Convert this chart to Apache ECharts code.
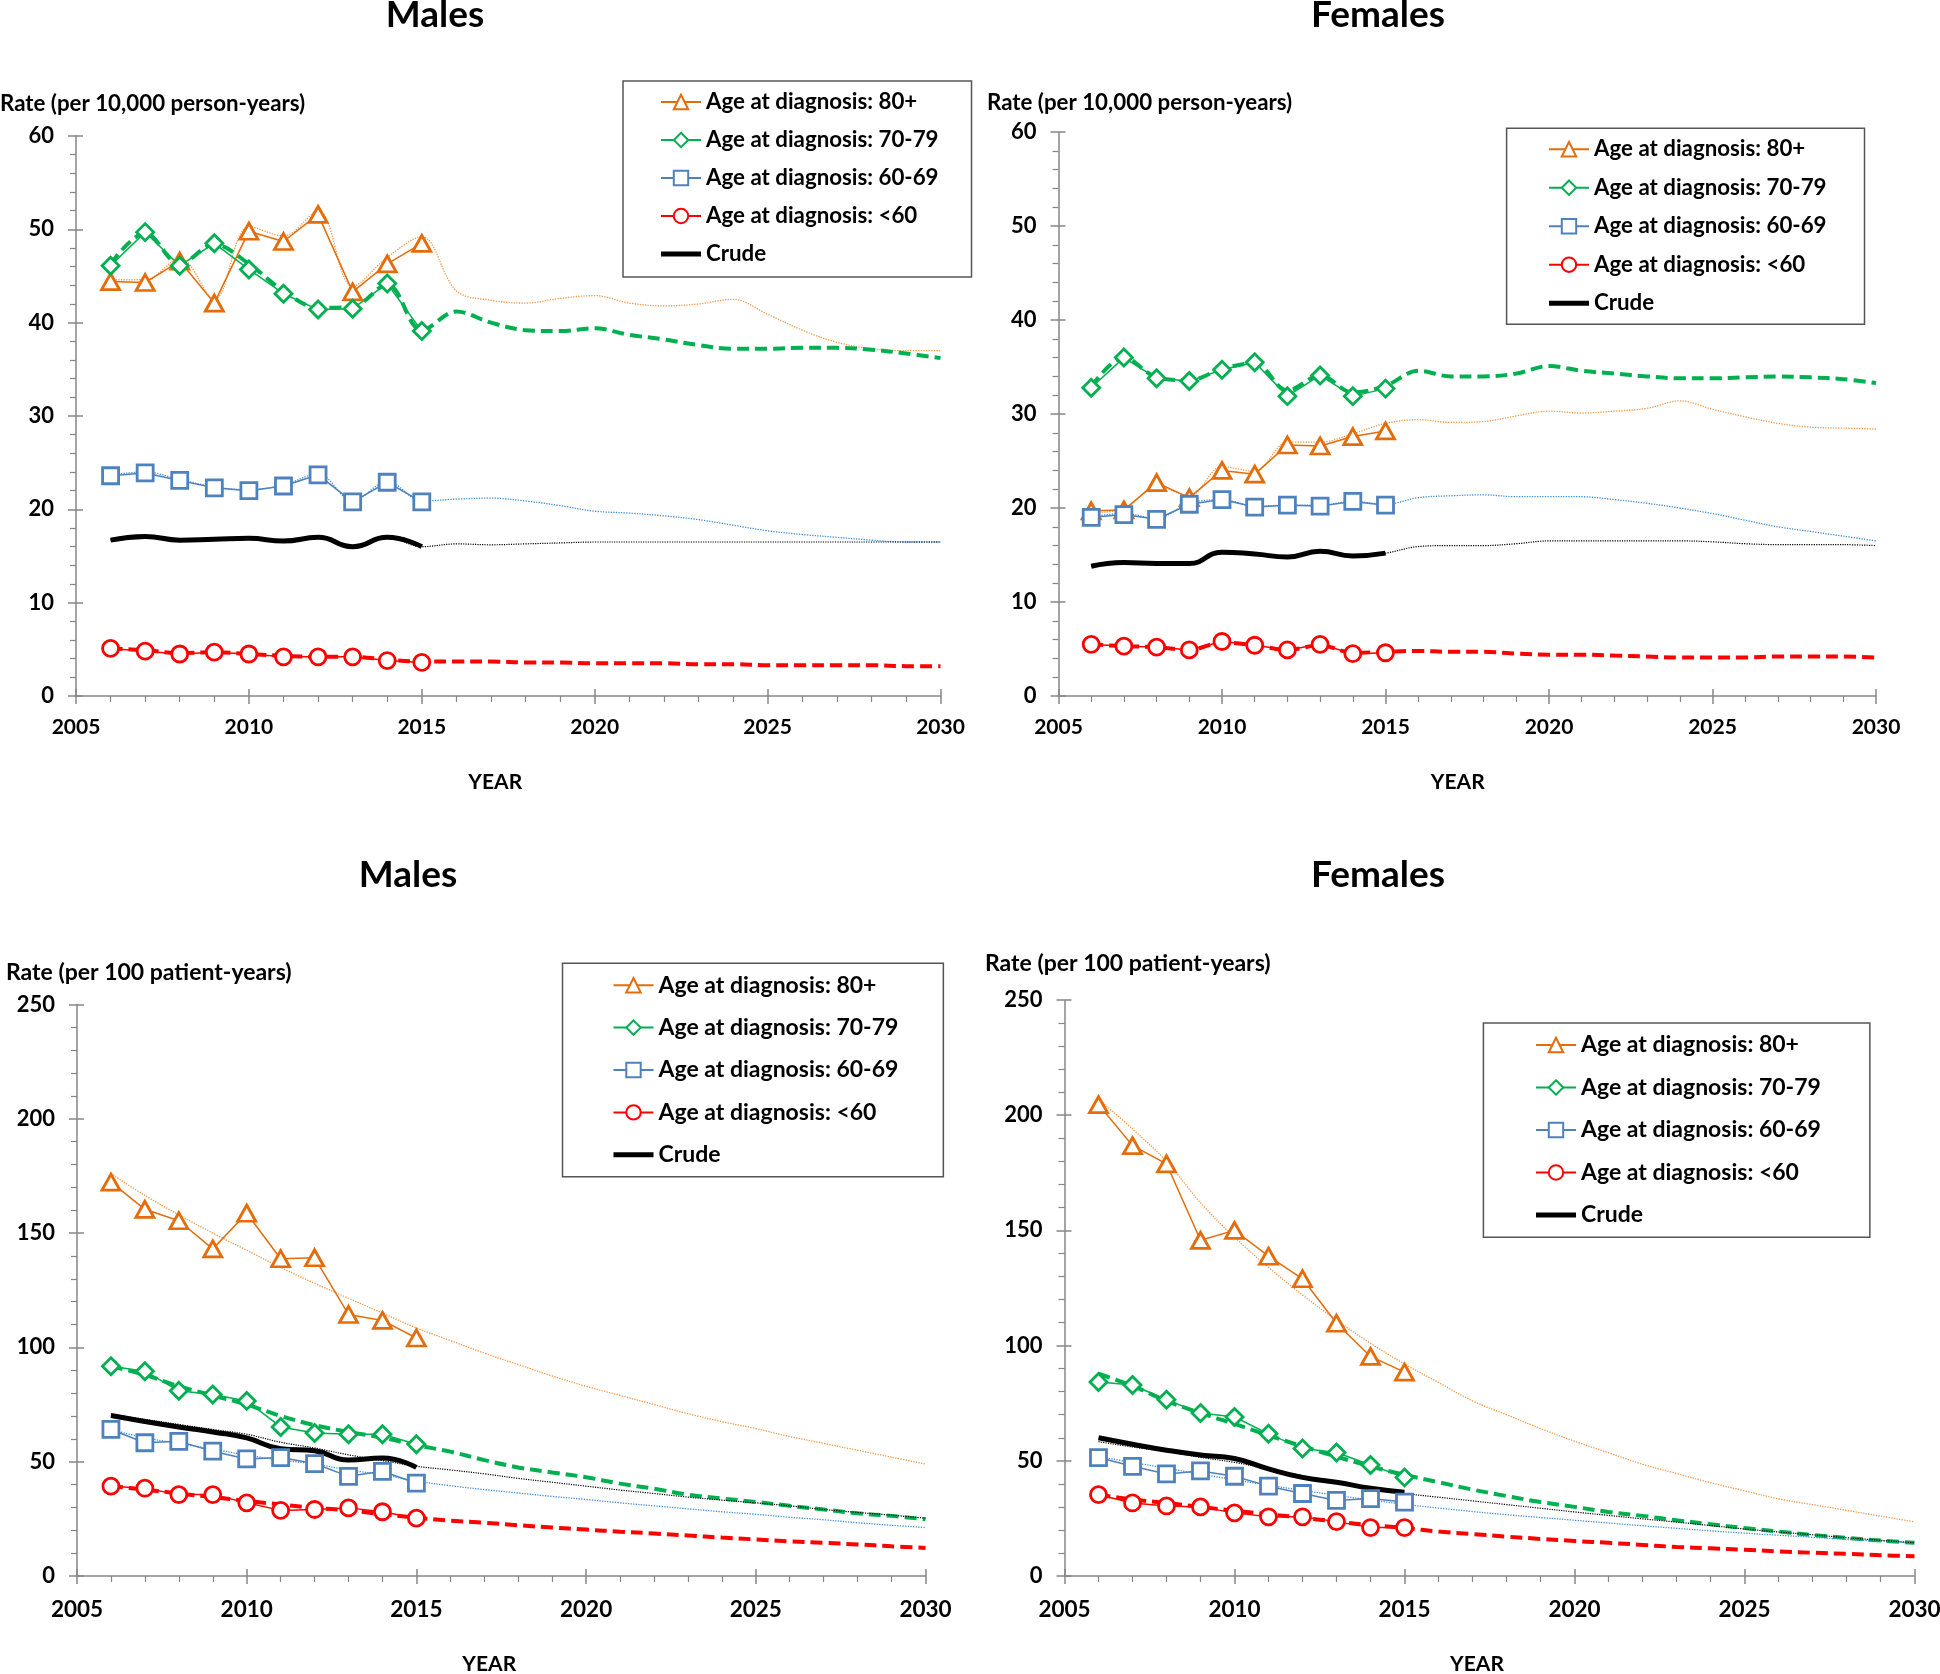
<!DOCTYPE html>
<html><head><meta charset="utf-8">
<script src="https://cdn.jsdelivr.net/npm/echarts@6/dist/echarts.min.js"></script>
<style>html,body{margin:0;padding:0;background:#fff}#c{width:1940px;height:1674px}</style>
</head><body><div id="c"></div><script>
// ---------------- DATA ----------------
const obsYears = [2006,2007,2008,2009,2010,2011,2012,2013,2014,2015];
const projYears = [2006,2007,2008,2009,2010,2011,2012,2013,2014,2015,2016,2017,2018,2019,2020,2021,2022,2023,2024,2025,2026,2027,2028,2029,2030];
const panelTitles = ['Males','Females','Males','Females'];
const yAxisNames = ['Rate (per 10,000 person-years)','Rate (per 10,000 person-years)','Rate (per 100 patient-years)','Rate (per 100 patient-years)'];
const xAxisName = 'YEAR';
const legendNames = ['Age at diagnosis: 80+','Age at diagnosis: 70-79','Age at diagnosis: 60-69','Age at diagnosis: <60','Crude'];
const yMaxes = [60,60,250,250];
const yIntervals = [10,10,50,50];

// Top-left: males, per 10,000 person-years
const obs80_TL = [44.4,44.3,46.6,42.1,49.8,48.7,51.6,43.3,46.3,48.5];
const fit80_TL = [44.6,44.6,46.9,42.5,50.3,49.3,52.0,43.9,47.0,49.2,43.4,42.4,42.1,42.6,42.9,42.1,41.8,42.0,42.5,40.9,39.2,37.9,37.2,37.0,37.0];
const obs70_TL = [46.1,49.7,46.1,48.5,45.7,43.1,41.4,41.5,44.2,39.1];
const fit70_TL = [46.3,49.6,46.3,48.4,46.3,43.4,41.6,41.7,44.1,39.2,41.2,40.0,39.2,39.1,39.4,38.7,38.2,37.6,37.2,37.2,37.3,37.3,37.1,36.7,36.2];
const obs60_TL = [23.6,23.9,23.1,22.3,22.0,22.5,23.7,20.8,22.9,20.8];
const fit60_TL = [23.7,24.0,23.2,22.4,22.1,22.6,23.8,20.9,23.0,20.9,21.1,21.2,20.9,20.4,19.8,19.6,19.3,18.9,18.3,17.7,17.3,17.0,16.7,16.5,16.5];
const obsU60_TL = [5.1,4.8,4.5,4.7,4.5,4.2,4.2,4.2,3.8,3.6];
const fitU60_TL = [5.1,4.9,4.6,4.7,4.5,4.3,4.2,4.2,3.9,3.7,3.7,3.7,3.6,3.6,3.5,3.5,3.5,3.4,3.4,3.3,3.3,3.3,3.3,3.2,3.2];
const crude_TL = [16.7,17.1,16.7,16.8,16.9,16.6,17.0,16.0,17.0,16.0];
const crudeFit_TL = [16.7,17.1,16.7,16.8,16.9,16.6,17.0,16.0,17.0,16.0,16.3,16.2,16.3,16.4,16.5,16.5,16.5,16.5,16.5,16.5,16.5,16.5,16.5,16.5,16.5];

// Top-right: females, per 10,000 person-years
const obs80_TR = [19.7,19.8,22.7,21.1,24.0,23.6,26.7,26.6,27.6,28.2];
const fit80_TR = [19.5,19.9,22.3,21.3,24.4,23.9,27.0,27.0,27.9,29.0,29.4,29.1,29.2,29.8,30.3,30.1,30.3,30.6,31.4,30.5,29.7,29.0,28.6,28.5,28.4];
const obs70_TR = [32.8,36.0,33.8,33.5,34.7,35.5,31.9,34.1,31.9,32.7];
const fit70_TR = [32.9,36.0,33.9,33.6,34.8,35.4,32.5,34.1,32.3,33.0,34.6,34.0,34.0,34.3,35.1,34.6,34.3,34.0,33.8,33.8,33.9,34.0,33.9,33.7,33.3];
const obs60_TR = [19.0,19.3,18.8,20.4,20.9,20.1,20.3,20.2,20.7,20.3];
const fit60_TR = [19.1,19.4,18.9,20.5,20.9,20.2,20.3,20.3,20.7,20.4,21.1,21.3,21.4,21.2,21.2,21.2,20.9,20.5,20.0,19.4,18.7,18.0,17.5,17.0,16.5];
const obsU60_TR = [5.5,5.3,5.2,4.9,5.8,5.4,4.9,5.5,4.5,4.6];
const fitU60_TR = [5.5,5.3,5.2,4.9,5.7,5.4,4.9,5.4,4.6,4.7,4.8,4.7,4.7,4.5,4.4,4.4,4.3,4.2,4.1,4.1,4.1,4.2,4.2,4.2,4.1];
const crude_TR = [13.8,14.2,14.1,14.1,15.3,15.1,14.8,15.4,14.9,15.2];
const crudeFit_TR = [13.8,14.2,14.1,14.1,15.3,15.1,14.8,15.4,14.9,15.2,15.9,16.0,16.0,16.2,16.5,16.5,16.5,16.5,16.5,16.4,16.2,16.1,16.1,16.1,16.0];

// Bottom-left: males, per 100 patient-years
const obs80_BL = [172.3,160.4,155.4,143.1,158.7,138.8,139.2,114.4,111.8,104.1];
const fit80_BL = [176.0,166.5,158.0,150.0,142.5,135.0,128.0,121.5,115.0,108.5,103.0,97.5,92.5,87.5,83.0,79.0,75.0,71.0,67.5,64.5,61.0,58.0,55.0,52.0,49.0];
const obs70_BL = [91.8,89.6,81.0,79.4,76.6,65.2,62.6,62.0,62.0,57.6];
const fit70_BL = [91.8,88.0,83.0,79.0,75.0,70.0,66.0,63.0,60.5,57.2,54.4,50.7,47.5,45.3,43.2,40.4,38.2,35.6,33.9,32.4,30.7,29.1,27.4,26.3,24.8];
const obs60_BL = [64.1,58.3,58.9,54.6,51.2,51.8,49.2,43.6,45.8,40.6];
const fit60_BL = [64.0,60.5,58.0,55.5,52.9,50.7,49.0,46.4,44.3,41.5,39.5,37.8,36.3,34.8,33.5,32.0,30.7,29.4,28.1,27.0,25.7,24.6,23.3,22.2,21.2];
const obsU60_BL = [39.3,38.4,35.6,35.6,32.0,28.7,29.1,29.8,28.1,25.3];
const fitU60_BL = [39.3,37.8,36.1,34.5,32.8,31.3,29.8,28.7,27.0,25.5,24.2,23.3,22.2,21.2,20.3,19.4,18.6,17.7,16.8,16.0,15.1,14.5,13.8,13.0,12.3];
const crude_BL = [70.2,67.6,65.2,63.0,60.4,55.7,54.8,50.7,51.6,47.5];
const crudeFit_BL = [70.8,68.5,66.3,64.1,62.0,58.5,56.0,53.0,50.5,48.0,46.4,44.7,42.7,41.0,39.3,37.6,36.1,34.5,33.2,32.0,30.7,29.1,27.8,26.6,25.3];

// Bottom-right: females, per 100 patient-years
const obs80_BR = [204.6,186.8,178.9,145.7,150.0,138.8,129.0,109.7,95.3,88.5];
const fit80_BR = [207.0,194.0,180.0,162.0,147.0,134.0,122.0,111.0,101.0,92.0,84.0,76.0,70.0,64.0,58.5,53.5,48.5,44.5,40.5,37.0,33.5,31.0,28.5,26.0,23.5];
const obs70_BR = [84.2,82.9,76.5,70.7,69.0,61.7,55.3,53.6,48.2,42.8];
const fit70_BR = [87.8,82.5,76.0,70.7,66.0,61.0,56.3,51.8,47.6,43.9,40.7,37.5,34.7,32.1,30.0,27.8,26.1,24.2,22.5,20.8,19.3,17.8,16.5,15.4,14.4];
const obs60_BR = [51.4,47.6,44.3,45.6,43.3,39.0,35.8,32.8,33.6,32.1];
const fit60_BR = [51.8,49.3,46.8,44.2,41.8,39.4,37.2,35.0,33.0,31.1,29.5,28.0,26.6,25.4,24.2,23.0,21.8,20.7,19.6,18.6,17.7,16.8,15.9,15.1,14.4];
const obsU60_BR = [35.3,31.7,30.4,30.0,27.4,25.7,25.7,23.6,21.0,21.0];
const fitU60_BR = [35.3,33.2,31.7,30.0,28.3,26.8,25.3,23.6,22.1,20.8,19.3,18.2,17.1,16.1,15.2,14.4,13.5,12.6,12.0,11.4,10.7,10.1,9.6,9.0,8.6];
const crude_BR = [60.0,57.2,54.6,52.5,51.0,46.5,42.8,40.7,38.1,36.4];
const crudeFit_BR = [58.3,56.0,54.0,51.5,49.3,46.5,43.5,40.5,38.0,35.8,34.2,32.6,31.0,29.4,27.8,26.3,24.8,23.4,21.9,20.4,19.1,17.9,16.6,15.5,14.4];

const panelData = [
  {obs:[obs80_TL,obs70_TL,obs60_TL,obsU60_TL], fit:[fit80_TL,fit70_TL,fit60_TL,fitU60_TL], crude:crude_TL, crudeFit:crudeFit_TL},
  {obs:[obs80_TR,obs70_TR,obs60_TR,obsU60_TR], fit:[fit80_TR,fit70_TR,fit60_TR,fitU60_TR], crude:crude_TR, crudeFit:crudeFit_TR},
  {obs:[obs80_BL,obs70_BL,obs60_BL,obsU60_BL], fit:[fit80_BL,fit70_BL,fit60_BL,fitU60_BL], crude:crude_BL, crudeFit:crudeFit_BL},
  {obs:[obs80_BR,obs70_BR,obs60_BR,obsU60_BR], fit:[fit80_BR,fit70_BR,fit60_BR,fitU60_BR], crude:crude_BR, crudeFit:crudeFit_BR}
];

// ---------------- LAYOUT / STYLE ----------------
const FONT = 'Lato, "Liberation Sans", sans-serif';
const layouts = [
  {grid:{left:76,top:136,width:864.5,height:560}, tX:435, tY:-3, yGap:21.5, yPad:-76, xShift:26, xGap:76,
   lg:{left:623,top:81,padding:[10,33,12,37],itemGap:16,fs:22.3,lh:20}, yls:22, xls:21, nfs:22.3, xm:21},
  {grid:{left:1058.5,top:132,width:817.5,height:564}, tX:1378, tY:-3, yGap:18, yPad:-71.5, xShift:19, xGap:76,
   lg:{left:1506.6,top:128.2,padding:[10,38,10,41.4],itemGap:16.5,fs:22.3,lh:20}, yls:22, xls:21, nfs:22.3, xm:21},
  {grid:{left:77,top:1004.5,width:848.5,height:571.5}, tX:408, tY:857, yGap:20, yPad:-71, xShift:24, xGap:78,
   lg:{left:562.5,top:963.2,padding:[10.5,45,10.5,50],itemGap:19.4,fs:23,lh:21}, yls:22, xls:22.5, nfs:23, xm:22},
  {grid:{left:1064.5,top:1000,width:850,height:576}, tX:1378, tY:857, yGap:24.5, yPad:-79.5, xShift:25, xGap:78,
   lg:{left:1483.4,top:1022.9,padding:[10.6,49,10.7,51.6],itemGap:19.5,fs:23,lh:21}, yls:22, xls:22.5, nfs:23, xm:22}
];
const COL = ['#E46C0A','#00B050','#4F81BD','#FF0000'];
const FITCOL = ['#F79646','#00B050','#3D8FD9','#FF0000'];
const SYM = ['triangle','diamond','rect','circle'];
const SYMSIZE = [[18,16],[17,17],[16,16],[16,16]];
const AXC = '#868686';

const grids=[], xAxes=[], yAxes=[], titles=[], legends=[], series=[];
layouts.forEach((L,i)=>{
  grids.push(Object.assign({outerBoundsMode:'none', containLabel:false}, L.grid));
  titles.push({text:panelTitles[i], left:L.tX, top:L.tY, textAlign:'center', padding:0,
    textStyle:{fontFamily:FONT, fontWeight:'bold', fontSize:37, color:'#000'}});
  xAxes.push({gridIndex:i, type:'value', position:'bottom', min:2005, max:2030, interval:5,
    axisLine:{show:true, onZero:false, lineStyle:{color:AXC, width:1.5}},
    axisTick:{show:true, length:8, lineStyle:{color:AXC, width:1.5}},
    minorTick:{show:true, splitNumber:5, length:6, lineStyle:{color:AXC, width:1.2}},
    splitLine:{show:false},
    axisLabel:{fontFamily:FONT, fontWeight:'bold', fontSize:L.xls, color:'#000', margin:L.xm, formatter:v=>String(v)},
    name:xAxisName, nameLocation:'middle', nameGap:L.xGap, nameMoveOverlap:false,
    nameTextStyle:{fontFamily:FONT, fontWeight:'bold', fontSize:21, color:'#000', padding:[0,L.xShift,0,0]}});
  yAxes.push({gridIndex:i, type:'value', position:'left', min:0, max:yMaxes[i], interval:yIntervals[i],
    axisLine:{show:true, onZero:false, lineStyle:{color:AXC, width:1.5}},
    axisTick:{show:true, length:8, lineStyle:{color:AXC, width:1.5}},
    minorTick:{show:true, splitNumber:5, length:6, lineStyle:{color:AXC, width:1.2}},
    splitLine:{show:false},
    axisLabel:{fontFamily:FONT, fontWeight:'bold', fontSize:L.yls, color:'#000', margin:22},
    name:yAxisNames[i], nameLocation:'end', nameGap:L.yGap, nameMoveOverlap:false,
    nameTextStyle:{fontFamily:FONT, fontWeight:'bold', fontSize:L.nfs, color:'#000', align:'left', padding:[0,0,0,L.yPad]}});
  legends.push({left:L.lg.left, top:L.lg.top, orient:'vertical', padding:L.lg.padding,
    itemWidth:40, itemHeight:18, itemGap:L.lg.itemGap, selectedMode:false,
    borderColor:'#555', borderWidth:1.5, backgroundColor:'#fff',
    textStyle:{fontFamily:FONT, fontWeight:'bold', fontSize:L.lg.fs, lineHeight:L.lg.lh, color:'#000'},
    data:[legendNames[0],legendNames[1],legendNames[2],legendNames[3],
      {name:legendNames[4], icon:'path://M0,0L40,0L40,5L0,5Z'}]});

  const D = panelData[i];
  D.fit.forEach((arr,k)=>{
    const thick = (k===1||k===3);
    series.push({type:'line', name:'Fitted '+legendNames[k], xAxisIndex:i, yAxisIndex:i,
      data: projYears.map((y,j)=>[y,arr[j]]), symbol:'none', smooth:0.35, silent:true,
      lineStyle: thick ? {color:FITCOL[k], width:4, type:[12,6]} : {color:FITCOL[k], width:1.3, type:'dotted'},
      itemStyle:{color:FITCOL[k]}, z:2});
  });
  series.push({type:'line', name:'Fitted Crude', xAxisIndex:i, yAxisIndex:i,
    data: projYears.map((y,j)=>[y,D.crudeFit[j]]), symbol:'none', smooth:0.35, silent:true,
    lineStyle:{color:'#000', width:1.2, type:'dotted'}, itemStyle:{color:'#000'}, z:2});
  series.push({type:'line', name:legendNames[4], xAxisIndex:i, yAxisIndex:i,
    data: obsYears.map((y,j)=>[y,D.crude[j]]), symbol:'none', smooth:true,
    lineStyle:{color:'#000', width:5}, itemStyle:{color:'#000'}, z:3});
  D.obs.forEach((arr,k)=>{
    series.push({type:'line', name:legendNames[k], xAxisIndex:i, yAxisIndex:i,
      data: obsYears.map((y,j)=>[y,arr[j]]), symbol:SYM[k], symbolSize:SYMSIZE[k], showSymbol:true,
      lineStyle:{color:COL[k], width:1.5},
      itemStyle:{color:'#fff', borderColor:COL[k], borderWidth:2.8}, z:4});
  });
});
// inner halves of the major ticks (the reference's major ticks cross the axis line)
layouts.forEach((L,i)=>{
  xAxes.push({gridIndex:i, type:'value', position:'bottom', offset:0, min:2005, max:2030, interval:5, silent:true,
    axisLine:{show:false, onZero:false}, axisTick:{show:true, inside:true, length:7, lineStyle:{color:AXC, width:1.5}},
    axisLabel:{show:false}, splitLine:{show:false}});
  yAxes.push({gridIndex:i, type:'value', position:'left', offset:0, min:0, max:yMaxes[i], interval:yIntervals[i], silent:true,
    axisLine:{show:false, onZero:false}, axisTick:{show:true, inside:true, length:7, lineStyle:{color:AXC, width:1.5}},
    axisLabel:{show:false}, splitLine:{show:false}});
});

const chart = echarts.init(document.getElementById('c'), null, {renderer:'canvas'});
chart.setOption({animation:false, backgroundColor:'#fff', title:titles, grid:grids, xAxis:xAxes, yAxis:yAxes, legend:legends, series:series});
</script></body></html>
